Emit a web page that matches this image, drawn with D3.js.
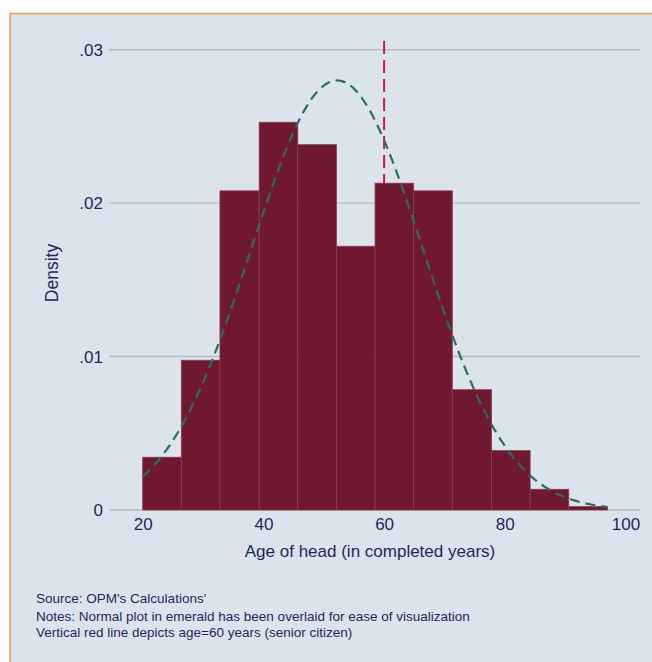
<!DOCTYPE html>
<html>
<head>
<meta charset="utf-8">
<script src="https://cdn.jsdelivr.net/npm/d3@7"></script>
<style>
  body { margin: 0; background: #fff; }
  text { font-family: "Liberation Sans", Arial, sans-serif; fill: #1b2a57; }
</style>
</head>
<body>
<div class="chart"></div>
<script>
// histogram bins (age of head) and their densities
const binEdges = [20, 26.4, 32.8, 39.3, 45.7, 52.1, 58.5, 64.9, 71.3, 77.8, 84.2, 90.6, 97]
const densities = [0.00344, 0.00976, 0.0208, 0.02527, 0.02381, 0.01719, 0.0213, 0.0208, 0.00784, 0.00387, 0.00135, 0.00022]
const xTicks = [20, 40, 60, 80, 100]
const yTicks = [0, 0.01, 0.02, 0.03]
// fitted normal overlay
const normalMean = 52.2
const normalSd = 14.25
const seniorAge = 60
const notes = [
    "Notes: Normal plot in emerald has been overlaid for ease of visualization",
    "Vertical red line depicts age=60 years (senior citizen)"
]

const width = 652, height = 662

const svg = d3.select('.chart')
    .append('svg')
    .attr('width', width)
    .attr('height', height)

// outer graph region
svg.append('rect')
    .attr('x', 10)
    .attr('y', 13.5)
    .attr('width', width)
    .attr('height', height)
    .style('fill', '#dbe3ec')
    .style('stroke', '#e9a24a')
    .style('stroke-width', 1.6)

const xScale = d3.scaleLinear()
    .domain([20, 100])
    .range([142.7, 625.5])

const yScale = d3.scaleLinear()
    .domain([0, 0.03])
    .range([510, 49.7])

// gridlines
svg.selectAll('line.grid')
    .data(yTicks)
    .enter()
    .append('line')
        .attr('class', 'grid')
        .attr('x1', 109)
        .attr('x2', 640)
        .attr('y1', d => yScale(d))
        .attr('y2', d => yScale(d))
        .style('stroke', '#b3bdc6')
        .style('stroke-width', 1.4)

// red reference line, sits behind the bars
svg.append('line')
    .attr('x1', xScale(seniorAge))
    .attr('x2', xScale(seniorAge))
    .attr('y1', 510)
    .attr('y2', 35)
    .style('stroke', '#d8143f')
    .style('stroke-width', 2)
    .style('stroke-dasharray', '13,6')

const bins = densities.map((d, i) => ({ x0: binEdges[i], x1: binEdges[i + 1], density: d }))

svg.selectAll('rect.bar')
    .data(bins)
    .enter()
    .append('rect')
        .attr('class', 'bar')
        .attr('x', d => xScale(d.x0))
        .attr('y', d => yScale(d.density))
        .attr('width', d => xScale(d.x1) - xScale(d.x0))
        .attr('height', d => yScale(0) - yScale(d.density))
        .style('fill', '#701830')
        .style('stroke', '#8c3a52')
        .style('stroke-width', 0.8)

// normal density overlay
const pdf = x => Math.exp(-0.5 * ((x - normalMean) / normalSd) ** 2) / (normalSd * Math.sqrt(2 * Math.PI))
const curve = d3.range(binEdges[0], binEdges[binEdges.length - 1] + 0.01, 0.25)
    .map(x => [x, pdf(x)])

svg.append('path')
    .datum(curve)
    .attr('d', d3.line()
        .x(d => xScale(d[0]))
        .y(d => yScale(d[1])))
    .style('fill', 'none')
    .style('stroke', '#2a6d62')
    .style('stroke-width', 2.2)
    .style('stroke-dasharray', '10,6')

// axes (labels only, Stata style)
const yAxis = svg.append('g')
    .attr('transform', 'translate(109, 0)')
    .call(d3.axisLeft(yScale)
        .tickValues(yTicks)
        .tickSize(0)
        .tickPadding(6)
        .tickFormat(d => d === 0 ? '0' : d3.format('.2f')(d).replace(/^0/, '')))
yAxis.select('.domain').remove()
yAxis.selectAll('text').style('font-size', '17px').style('fill', '#1b2a57')

const xAxis = svg.append('g')
    .attr('transform', 'translate(0, 510)')
    .call(d3.axisBottom(xScale)
        .tickValues(xTicks)
        .tickSize(0)
        .tickPadding(8))
xAxis.select('.domain').remove()
xAxis.selectAll('text').style('font-size', '17px').style('fill', '#1b2a57')

svg.append('text')
    .attr('transform', 'rotate(-90)')
    .attr('x', -273)
    .attr('y', 58)
    .style('text-anchor', 'middle')
    .style('font-size', '17.5px')
    .text('Density')

svg.append('text')
    .attr('x', 370)
    .attr('y', 557)
    .style('text-anchor', 'middle')
    .style('font-size', '17px')
    .text('Age of head (in completed years)')

svg.append('text')
    .attr('x', 36)
    .attr('y', 602.5)
    .style('font-size', '13.5px')
    .text("Source: OPM's Calculations'")

svg.selectAll('text.note')
    .data(notes)
    .enter()
    .append('text')
        .attr('class', 'note')
        .attr('x', 36)
        .attr('y', (d, i) => 621.4 + i * 15.6)
        .style('font-size', '13.5px')
        .text(d => d)
</script>
</body>
</html>
